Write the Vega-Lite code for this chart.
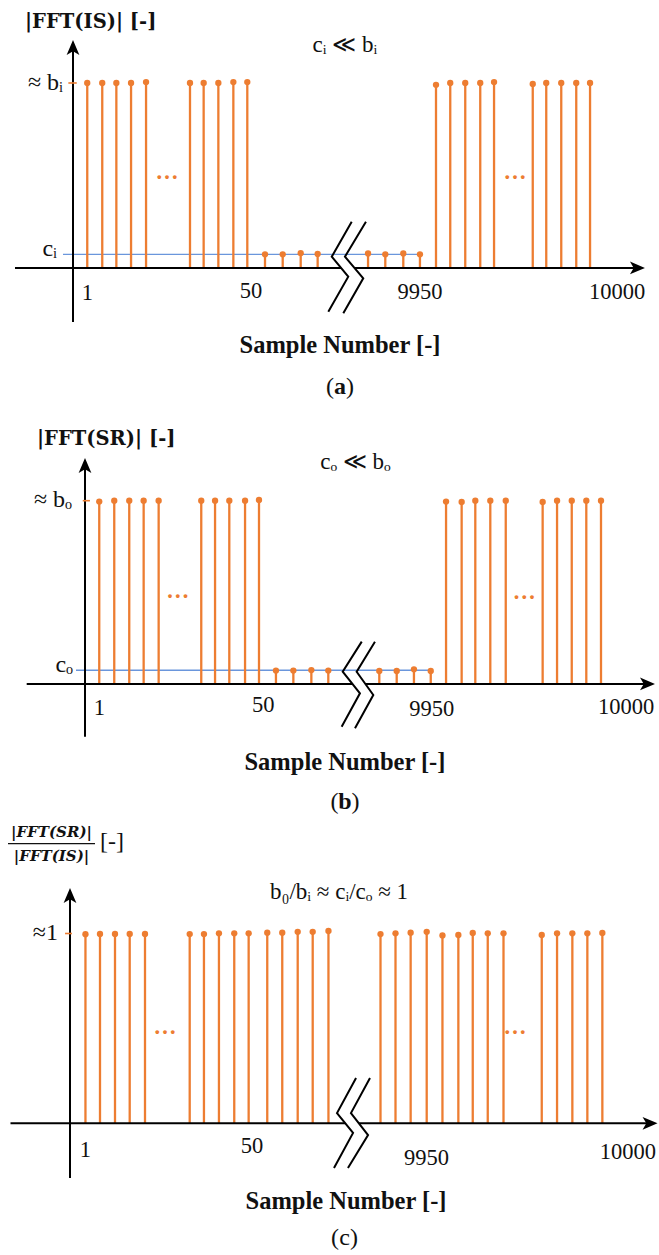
{
  "$schema": "https://vega.github.io/schema/vega-lite/v6.json",
  "padding": 0,
  "spacing": 0,
  "bounds": "flush",
  "config": {
    "view": {"stroke": null},
    "text": {"font": "Liberation Serif", "color": "#111111"}
  },
  "datasets": {
    "stems": [
      {"panel": "a", "pos": 0.95, "mag": 1}, {"panel": "a", "pos": 1.95, "mag": 1}, {"panel": "a", "pos": 2.89, "mag": 1}, {"panel": "a", "pos": 3.87, "mag": 1}, {"panel": "a", "pos": 4.87, "mag": 1.005},
      {"panel": "a", "pos": 7.8, "mag": 1}, {"panel": "a", "pos": 8.71, "mag": 1}, {"panel": "a", "pos": 9.69, "mag": 1}, {"panel": "a", "pos": 10.69, "mag": 1.005}, {"panel": "a", "pos": 11.62, "mag": 1.005},
      {"panel": "a", "pos": 12.8, "mag": 0.074}, {"panel": "a", "pos": 13.98, "mag": 0.074}, {"panel": "a", "pos": 15.18, "mag": 0.08}, {"panel": "a", "pos": 16.31, "mag": 0.076},
      {"panel": "a", "pos": 19.67, "mag": 0.079}, {"panel": "a", "pos": 20.82, "mag": 0.074}, {"panel": "a", "pos": 22.02, "mag": 0.079}, {"panel": "a", "pos": 23.13, "mag": 0.074},
      {"panel": "a", "pos": 24.2, "mag": 0.99}, {"panel": "a", "pos": 25.15, "mag": 1}, {"panel": "a", "pos": 26.15, "mag": 1}, {"panel": "a", "pos": 27.15, "mag": 1}, {"panel": "a", "pos": 28.07, "mag": 1.005},
      {"panel": "a", "pos": 30.65, "mag": 0.995}, {"panel": "a", "pos": 31.55, "mag": 1}, {"panel": "a", "pos": 32.55, "mag": 1}, {"panel": "a", "pos": 33.55, "mag": 1}, {"panel": "a", "pos": 34.47, "mag": 1},

      {"panel": "b", "pos": 0.95, "mag": 0.995}, {"panel": "b", "pos": 1.95, "mag": 1}, {"panel": "b", "pos": 2.95, "mag": 1}, {"panel": "b", "pos": 3.91, "mag": 1}, {"panel": "b", "pos": 4.91, "mag": 1},
      {"panel": "b", "pos": 7.75, "mag": 1}, {"panel": "b", "pos": 8.67, "mag": 1}, {"panel": "b", "pos": 9.62, "mag": 1}, {"panel": "b", "pos": 10.67, "mag": 1}, {"panel": "b", "pos": 11.6, "mag": 1.004},
      {"panel": "b", "pos": 12.73, "mag": 0.073}, {"panel": "b", "pos": 13.89, "mag": 0.073}, {"panel": "b", "pos": 15.09, "mag": 0.076}, {"panel": "b", "pos": 16.22, "mag": 0.073},
      {"panel": "b", "pos": 19.62, "mag": 0.071}, {"panel": "b", "pos": 20.78, "mag": 0.071}, {"panel": "b", "pos": 21.93, "mag": 0.08}, {"panel": "b", "pos": 23.05, "mag": 0.071},
      {"panel": "b", "pos": 24.07, "mag": 0.995}, {"panel": "b", "pos": 25.11, "mag": 0.993}, {"panel": "b", "pos": 26.02, "mag": 1}, {"panel": "b", "pos": 27.02, "mag": 1}, {"panel": "b", "pos": 28.05, "mag": 1},
      {"panel": "b", "pos": 30.51, "mag": 0.993}, {"panel": "b", "pos": 31.47, "mag": 1}, {"panel": "b", "pos": 32.45, "mag": 1}, {"panel": "b", "pos": 33.42, "mag": 1}, {"panel": "b", "pos": 34.4, "mag": 1},

      {"panel": "c", "pos": 1.03, "mag": 0.996}, {"panel": "c", "pos": 2.0, "mag": 0.998}, {"panel": "c", "pos": 3.0, "mag": 0.998}, {"panel": "c", "pos": 3.98, "mag": 0.998}, {"panel": "c", "pos": 5.0, "mag": 0.998},
      {"panel": "c", "pos": 7.98, "mag": 0.997}, {"panel": "c", "pos": 8.93, "mag": 0.997}, {"panel": "c", "pos": 9.93, "mag": 1.001}, {"panel": "c", "pos": 10.95, "mag": 1.001}, {"panel": "c", "pos": 11.91, "mag": 1.001},
      {"panel": "c", "pos": 13.15, "mag": 1.004}, {"panel": "c", "pos": 14.15, "mag": 1.004}, {"panel": "c", "pos": 15.18, "mag": 1.009}, {"panel": "c", "pos": 16.18, "mag": 1.009}, {"panel": "c", "pos": 17.23, "mag": 1.013},
      {"panel": "c", "pos": 20.7, "mag": 0.997}, {"panel": "c", "pos": 21.7, "mag": 1.001}, {"panel": "c", "pos": 22.71, "mag": 1.004}, {"panel": "c", "pos": 23.78, "mag": 1.009}, {"panel": "c", "pos": 24.83, "mag": 0.99},
      {"panel": "c", "pos": 25.89, "mag": 0.992}, {"panel": "c", "pos": 26.85, "mag": 1.003}, {"panel": "c", "pos": 27.85, "mag": 1.001}, {"panel": "c", "pos": 28.9, "mag": 1.001},
      {"panel": "c", "pos": 31.45, "mag": 0.992}, {"panel": "c", "pos": 32.47, "mag": 1.001}, {"panel": "c", "pos": 33.49, "mag": 1.001}, {"panel": "c", "pos": 34.49, "mag": 1.001}, {"panel": "c", "pos": 35.49, "mag": 1.003}
    ],
    "axisLines": [
      {"panel": "a", "pos": 0, "mag": -0.292, "pos2": 0, "mag2": 1.19},
      {"panel": "a", "pos": -3.867, "mag": 0, "pos2": 17.87, "mag2": 0},
      {"panel": "a", "pos": 18.77, "mag": 0, "pos2": 37.6, "mag2": 0},
      {"panel": "b", "pos": 0, "mag": -0.2875, "pos2": 0, "mag2": 1.19},
      {"panel": "b", "pos": -3.887, "mag": 0, "pos2": 17.83, "mag2": 0},
      {"panel": "b", "pos": 18.7, "mag": 0, "pos2": 37.5, "mag2": 0},
      {"panel": "c", "pos": 0, "mag": -0.288, "pos2": 0, "mag2": 1.2},
      {"panel": "c", "pos": -3.967, "mag": 0, "pos2": 18.35, "mag2": 0},
      {"panel": "c", "pos": 19.27, "mag": 0, "pos2": 38.67, "mag2": 0}
    ],
    "arrowHeads": [
      {"panel": "a", "pos": 0, "mag": 1.192, "dir": "up"},
      {"panel": "a", "pos": 37.63, "mag": 0, "dir": "right"},
      {"panel": "b", "pos": 0, "mag": 1.192, "dir": "up"},
      {"panel": "b", "pos": 37.5, "mag": 0, "dir": "right"},
      {"panel": "c", "pos": 0, "mag": 1.2, "dir": "up"},
      {"panel": "c", "pos": 38.67, "mag": 0, "dir": "right"}
    ],
    "axisBreaks": [
      {"panel": "a", "stroke": 1, "seq": 1, "pos": 18.58, "mag": 0.25},
      {"panel": "a", "stroke": 1, "seq": 2, "pos": 17.25, "mag": 0.061},
      {"panel": "a", "stroke": 1, "seq": 3, "pos": 18.35, "mag": -0.047},
      {"panel": "a", "stroke": 1, "seq": 4, "pos": 17.02, "mag": -0.236},
      {"panel": "a", "stroke": 2, "seq": 1, "pos": 19.53, "mag": 0.25},
      {"panel": "a", "stroke": 2, "seq": 2, "pos": 18.13, "mag": 0.061},
      {"panel": "a", "stroke": 2, "seq": 3, "pos": 19.35, "mag": -0.056},
      {"panel": "a", "stroke": 2, "seq": 4, "pos": 18.02, "mag": -0.245},
      {"panel": "b", "stroke": 1, "seq": 1, "pos": 18.45, "mag": 0.231},
      {"panel": "b", "stroke": 1, "seq": 2, "pos": 17.18, "mag": 0.067},
      {"panel": "b", "stroke": 1, "seq": 3, "pos": 18.33, "mag": -0.051},
      {"panel": "b", "stroke": 1, "seq": 4, "pos": 17.11, "mag": -0.233},
      {"panel": "b", "stroke": 2, "seq": 1, "pos": 19.33, "mag": 0.231},
      {"panel": "b", "stroke": 2, "seq": 2, "pos": 18.11, "mag": 0.067},
      {"panel": "b", "stroke": 2, "seq": 3, "pos": 19.22, "mag": -0.06},
      {"panel": "b", "stroke": 2, "seq": 4, "pos": 18.0, "mag": -0.242},
      {"panel": "c", "stroke": 1, "seq": 1, "pos": 19.07, "mag": 0.239},
      {"panel": "c", "stroke": 1, "seq": 2, "pos": 17.8, "mag": 0.054},
      {"panel": "c", "stroke": 1, "seq": 3, "pos": 18.87, "mag": -0.051},
      {"panel": "c", "stroke": 1, "seq": 4, "pos": 17.6, "mag": -0.236},
      {"panel": "c", "stroke": 2, "seq": 1, "pos": 20.0, "mag": 0.239},
      {"panel": "c", "stroke": 2, "seq": 2, "pos": 18.73, "mag": 0.054},
      {"panel": "c", "stroke": 2, "seq": 3, "pos": 19.87, "mag": -0.062},
      {"panel": "c", "stroke": 2, "seq": 4, "pos": 18.53, "mag": -0.236}
    ],
    "floorLevels": [
      {"panel": "a", "pos": -0.667, "pos2": 23.13, "mag": 0.074},
      {"panel": "b", "pos": -0.6, "pos2": 23.2, "mag": 0.075}
    ],
    "peakTicks": [
      {"panel": "a", "pos": -0.31, "pos2": 0.25, "mag": 1},
      {"panel": "b", "pos": -0.15, "pos2": 0.33, "mag": 1},
      {"panel": "c", "pos": -0.33, "pos2": 0.13, "mag": 1}
    ],
    "yTitles": [
      {"panel": "a", "pos": -3.2, "mag": 1.297, "label": "|FFT(IS)| [-]"},
      {"panel": "b", "pos": -3.2, "mag": 1.304, "label": "|FFT(SR)| [-]"}
    ],
    "ratioTitle": [
      {"panel": "c", "pos": -1.233, "mag": 1.534, "label": "|FFT(SR)|"},
      {"panel": "c", "pos": -1.233, "mag": 1.41, "label": "|FFT(IS)|"}
    ],
    "ratioBar": [
      {"panel": "c", "pos": -4.133, "pos2": 1.667, "mag": 1.474}
    ],
    "ratioUnit": [
      {"panel": "c", "pos": 2.0, "mag": 1.482, "label": "[-]"}
    ],
    "relations": [
      {"panel": "a", "pos": 18.13, "mag": 1.205, "label": "cᵢ ≪ bᵢ"},
      {"panel": "b", "pos": 18.03, "mag": 1.211, "label": "cₒ ≪ bₒ"},
      {"panel": "c", "pos": 17.93, "mag": 1.218, "label": "b₀/bᵢ ≈ cᵢ/cₒ ≈ 1"}
    ],
    "levelLabels": [
      {"panel": "a", "pos": -0.667, "mag": 1.0, "label": "≈ bᵢ"},
      {"panel": "a", "pos": -1.067, "mag": 0.103, "label": "cᵢ"},
      {"panel": "b", "pos": -0.867, "mag": 1.004, "label": "≈ bₒ"},
      {"panel": "b", "pos": -0.8, "mag": 0.104, "label": "cₒ"},
      {"panel": "c", "pos": -0.8, "mag": 1.003, "label": "≈1"}
    ],
    "ellipses": [
      {"panel": "a", "pos": 6.27, "mag": 0.519}, {"panel": "a", "pos": 29.47, "mag": 0.519},
      {"panel": "b", "pos": 6.18, "mag": 0.507}, {"panel": "b", "pos": 29.29, "mag": 0.504},
      {"panel": "c", "pos": 6.33, "mag": 0.507}, {"panel": "c", "pos": 29.67, "mag": 0.507}
    ],
    "sampleTicks": [
      {"panel": "a", "pos": 0.95, "mag": -0.135, "label": "1"},
      {"panel": "a", "pos": 11.87, "mag": -0.124, "label": "50"},
      {"panel": "a", "pos": 23.13, "mag": -0.13, "label": "9950"},
      {"panel": "a", "pos": 36.27, "mag": -0.13, "label": "10000"},
      {"panel": "b", "pos": 0.95, "mag": -0.131, "label": "1"},
      {"panel": "b", "pos": 11.89, "mag": -0.115, "label": "50"},
      {"panel": "b", "pos": 23.11, "mag": -0.136, "label": "9950"},
      {"panel": "b", "pos": 36.07, "mag": -0.125, "label": "10000"},
      {"panel": "c", "pos": 1.02, "mag": -0.141, "label": "1"},
      {"panel": "c", "pos": 12.13, "mag": -0.12, "label": "50"},
      {"panel": "c", "pos": 23.77, "mag": -0.183, "label": "9950"},
      {"panel": "c", "pos": 37.2, "mag": -0.151, "label": "10000"}
    ],
    "xTitles": [
      {"panel": "a", "pos": 17.8, "mag": -0.422, "label": "Sample Number [-]"},
      {"panel": "b", "pos": 17.33, "mag": -0.431, "label": "Sample Number [-]"},
      {"panel": "c", "pos": 18.4, "mag": -0.413, "label": "Sample Number [-]"}
    ],
    "captions": [
      {"panel": "a", "pos": 17.8, "mag": -0.642, "label": "a"},
      {"panel": "b", "pos": 17.33, "mag": -0.642, "label": "b"},
      {"panel": "c", "pos": 18.3, "mag": -0.604, "label": "c"}
    ]
  },
  "vconcat": [
    {
      "width": 659,
      "height": 410,
      "encoding": {
        "x": {"field": "pos", "type": "quantitative", "scale": {"domain": [-4.8667, 39.0667], "nice": false, "zero": false}, "axis": null},
        "y": {"field": "mag", "type": "quantitative", "scale": {"domain": [-0.7676, 1.4486], "nice": false, "zero": false}, "axis": null}
      },
      "layer": [
        {"data": {"name": "floorLevels"}, "transform": [{"filter": "datum.panel == 'a'"}], "mark": {"type": "rule", "color": "#6A96DC", "strokeWidth": 1.3}, "encoding": {"x2": {"field": "pos2"}}},
        {"data": {"name": "stems"}, "transform": [{"filter": "datum.panel == 'a'"}], "mark": {"type": "rule", "color": "#ED7D31", "strokeWidth": 2.3}, "encoding": {"y2": {"datum": 0}}},
        {"data": {"name": "stems"}, "transform": [{"filter": "datum.panel == 'a'"}], "mark": {"type": "point", "filled": true, "color": "#ED7D31", "opacity": 1, "size": 40}},
        {"data": {"name": "axisLines"}, "transform": [{"filter": "datum.panel == 'a'"}], "mark": {"type": "rule", "color": "#000000", "strokeWidth": 2}, "encoding": {"x2": {"field": "pos2"}, "y2": {"field": "mag2"}}},
        {"data": {"name": "arrowHeads"}, "transform": [{"filter": "datum.panel == 'a'"}], "mark": {"type": "point", "filled": true, "color": "#000000", "opacity": 1, "size": 225}, "encoding": {"shape": {"field": "dir", "type": "nominal", "scale": {"domain": ["up", "right"], "range": ["M0,-1L0.85,1L0,0.5L-0.85,1Z", "M1,0L-1,0.85L-0.5,0L-1,-0.85Z"]}, "legend": null}}},
        {"data": {"name": "axisBreaks"}, "transform": [{"filter": "datum.panel == 'a'"}], "mark": {"type": "line", "color": "#000000", "strokeWidth": 2}, "encoding": {"detail": {"field": "stroke"}, "order": {"field": "seq"}}},
        {"data": {"name": "peakTicks"}, "transform": [{"filter": "datum.panel == 'a'"}], "mark": {"type": "rule", "color": "#ED7D31", "strokeWidth": 1.6}, "encoding": {"x2": {"field": "pos2"}}},
        {"data": {"name": "yTitles"}, "transform": [{"filter": "datum.panel == 'a'"}], "mark": {"type": "text", "font": "DejaVu Serif", "fontWeight": "bold", "fontSize": 19.5, "align": "left", "baseline": "alphabetic"}, "encoding": {"text": {"field": "label"}}},
        {"data": {"name": "relations"}, "transform": [{"filter": "datum.panel == 'a'"}], "mark": {"type": "text", "fontSize": 23, "align": "center", "baseline": "middle"}, "encoding": {"text": {"field": "label"}}},
        {"data": {"name": "levelLabels"}, "transform": [{"filter": "datum.panel == 'a'"}], "mark": {"type": "text", "fontSize": 24, "align": "right", "baseline": "middle"}, "encoding": {"text": {"field": "label"}}},
        {"data": {"name": "ellipses"}, "transform": [{"filter": "datum.panel == 'a'"}], "mark": {"type": "text", "text": "…", "fontSize": 23, "fontWeight": "bold", "color": "#ED7D31", "align": "center", "baseline": "middle"}},
        {"data": {"name": "sampleTicks"}, "transform": [{"filter": "datum.panel == 'a'"}], "mark": {"type": "text", "fontSize": 22.5, "align": "center", "baseline": "middle"}, "encoding": {"text": {"field": "label"}}},
        {"data": {"name": "xTitles"}, "transform": [{"filter": "datum.panel == 'a'"}], "mark": {"type": "text", "fontSize": 24.5, "fontWeight": "bold", "align": "center", "baseline": "middle"}, "encoding": {"text": {"field": "label"}}},
        {"data": {"name": "captions"}, "transform": [{"filter": "datum.panel == 'a'"}], "mark": {"type": "text", "fontSize": 24, "fontWeight": "bold", "align": "center", "baseline": "middle"}, "encoding": {"text": {"field": "label"}}},
        {"data": {"name": "captions"}, "transform": [{"filter": "datum.panel == 'a'"}], "mark": {"type": "text", "text": "(", "fontSize": 24, "align": "right", "baseline": "middle", "dx": -6}},
        {"data": {"name": "captions"}, "transform": [{"filter": "datum.panel == 'a'"}], "mark": {"type": "text", "text": ")", "fontSize": 24, "align": "left", "baseline": "middle", "dx": 6}}
      ]
    },
    {
      "width": 659,
      "height": 410,
      "encoding": {
        "x": {"field": "pos", "type": "quantitative", "scale": {"domain": [-5.6667, 38.2667], "nice": false, "zero": false}, "axis": null},
        "y": {"field": "mag", "type": "quantitative", "scale": {"domain": [-0.742, 1.4948], "nice": false, "zero": false}, "axis": null}
      },
      "layer": [
        {"data": {"name": "floorLevels"}, "transform": [{"filter": "datum.panel == 'b'"}], "mark": {"type": "rule", "color": "#6A96DC", "strokeWidth": 1.3}, "encoding": {"x2": {"field": "pos2"}}},
        {"data": {"name": "stems"}, "transform": [{"filter": "datum.panel == 'b'"}], "mark": {"type": "rule", "color": "#ED7D31", "strokeWidth": 2.3}, "encoding": {"y2": {"datum": 0}}},
        {"data": {"name": "stems"}, "transform": [{"filter": "datum.panel == 'b'"}], "mark": {"type": "point", "filled": true, "color": "#ED7D31", "opacity": 1, "size": 40}},
        {"data": {"name": "axisLines"}, "transform": [{"filter": "datum.panel == 'b'"}], "mark": {"type": "rule", "color": "#000000", "strokeWidth": 2}, "encoding": {"x2": {"field": "pos2"}, "y2": {"field": "mag2"}}},
        {"data": {"name": "arrowHeads"}, "transform": [{"filter": "datum.panel == 'b'"}], "mark": {"type": "point", "filled": true, "color": "#000000", "opacity": 1, "size": 225}, "encoding": {"shape": {"field": "dir", "type": "nominal", "scale": {"domain": ["up", "right"], "range": ["M0,-1L0.85,1L0,0.5L-0.85,1Z", "M1,0L-1,0.85L-0.5,0L-1,-0.85Z"]}, "legend": null}}},
        {"data": {"name": "axisBreaks"}, "transform": [{"filter": "datum.panel == 'b'"}], "mark": {"type": "line", "color": "#000000", "strokeWidth": 2}, "encoding": {"detail": {"field": "stroke"}, "order": {"field": "seq"}}},
        {"data": {"name": "peakTicks"}, "transform": [{"filter": "datum.panel == 'b'"}], "mark": {"type": "rule", "color": "#ED7D31", "strokeWidth": 1.6}, "encoding": {"x2": {"field": "pos2"}}},
        {"data": {"name": "yTitles"}, "transform": [{"filter": "datum.panel == 'b'"}], "mark": {"type": "text", "font": "DejaVu Serif", "fontWeight": "bold", "fontSize": 19.5, "align": "left", "baseline": "alphabetic"}, "encoding": {"text": {"field": "label"}}},
        {"data": {"name": "relations"}, "transform": [{"filter": "datum.panel == 'b'"}], "mark": {"type": "text", "fontSize": 23, "align": "center", "baseline": "middle"}, "encoding": {"text": {"field": "label"}}},
        {"data": {"name": "levelLabels"}, "transform": [{"filter": "datum.panel == 'b'"}], "mark": {"type": "text", "fontSize": 24, "align": "right", "baseline": "middle"}, "encoding": {"text": {"field": "label"}}},
        {"data": {"name": "ellipses"}, "transform": [{"filter": "datum.panel == 'b'"}], "mark": {"type": "text", "text": "…", "fontSize": 23, "fontWeight": "bold", "color": "#ED7D31", "align": "center", "baseline": "middle"}},
        {"data": {"name": "sampleTicks"}, "transform": [{"filter": "datum.panel == 'b'"}], "mark": {"type": "text", "fontSize": 22.5, "align": "center", "baseline": "middle"}, "encoding": {"text": {"field": "label"}}},
        {"data": {"name": "xTitles"}, "transform": [{"filter": "datum.panel == 'b'"}], "mark": {"type": "text", "fontSize": 24.5, "fontWeight": "bold", "align": "center", "baseline": "middle"}, "encoding": {"text": {"field": "label"}}},
        {"data": {"name": "captions"}, "transform": [{"filter": "datum.panel == 'b'"}], "mark": {"type": "text", "fontSize": 24, "fontWeight": "bold", "align": "center", "baseline": "middle"}, "encoding": {"text": {"field": "label"}}},
        {"data": {"name": "captions"}, "transform": [{"filter": "datum.panel == 'b'"}], "mark": {"type": "text", "text": "(", "fontSize": 24, "align": "right", "baseline": "middle", "dx": -6.5}},
        {"data": {"name": "captions"}, "transform": [{"filter": "datum.panel == 'b'"}], "mark": {"type": "text", "text": ")", "fontSize": 24, "align": "left", "baseline": "middle", "dx": 6.5}}
      ]
    },
    {
      "width": 659,
      "height": 435,
      "encoding": {
        "x": {"field": "pos", "type": "quantitative", "scale": {"domain": [-4.6667, 39.2667], "nice": false, "zero": false}, "axis": null},
        "y": {"field": "mag", "type": "quantitative", "scale": {"domain": [-0.6939, 1.598], "nice": false, "zero": false}, "axis": null}
      },
      "layer": [
        {"data": {"name": "stems"}, "transform": [{"filter": "datum.panel == 'c'"}], "mark": {"type": "rule", "color": "#ED7D31", "strokeWidth": 2.3}, "encoding": {"y2": {"datum": 0}}},
        {"data": {"name": "stems"}, "transform": [{"filter": "datum.panel == 'c'"}], "mark": {"type": "point", "filled": true, "color": "#ED7D31", "opacity": 1, "size": 40}},
        {"data": {"name": "axisLines"}, "transform": [{"filter": "datum.panel == 'c'"}], "mark": {"type": "rule", "color": "#000000", "strokeWidth": 2}, "encoding": {"x2": {"field": "pos2"}, "y2": {"field": "mag2"}}},
        {"data": {"name": "arrowHeads"}, "transform": [{"filter": "datum.panel == 'c'"}], "mark": {"type": "point", "filled": true, "color": "#000000", "opacity": 1, "size": 225}, "encoding": {"shape": {"field": "dir", "type": "nominal", "scale": {"domain": ["up", "right"], "range": ["M0,-1L0.85,1L0,0.5L-0.85,1Z", "M1,0L-1,0.85L-0.5,0L-1,-0.85Z"]}, "legend": null}}},
        {"data": {"name": "axisBreaks"}, "transform": [{"filter": "datum.panel == 'c'"}], "mark": {"type": "line", "color": "#000000", "strokeWidth": 2}, "encoding": {"detail": {"field": "stroke"}, "order": {"field": "seq"}}},
        {"data": {"name": "peakTicks"}, "transform": [{"filter": "datum.panel == 'c'"}], "mark": {"type": "rule", "color": "#ED7D31", "strokeWidth": 1.6}, "encoding": {"x2": {"field": "pos2"}}},
        {"data": {"name": "ratioTitle"}, "transform": [{"filter": "datum.panel == 'c'"}], "mark": {"type": "text", "font": "DejaVu Serif", "fontWeight": "bold", "fontStyle": "italic", "fontSize": 15, "align": "center", "baseline": "middle"}, "encoding": {"text": {"field": "label"}}},
        {"data": {"name": "ratioBar"}, "transform": [{"filter": "datum.panel == 'c'"}], "mark": {"type": "rule", "color": "#111111", "strokeWidth": 1.3}, "encoding": {"x2": {"field": "pos2"}}},
        {"data": {"name": "ratioUnit"}, "transform": [{"filter": "datum.panel == 'c'"}], "mark": {"type": "text", "fontSize": 24, "align": "left", "baseline": "middle"}, "encoding": {"text": {"field": "label"}}},
        {"data": {"name": "relations"}, "transform": [{"filter": "datum.panel == 'c'"}], "mark": {"type": "text", "fontSize": 23, "align": "center", "baseline": "middle"}, "encoding": {"text": {"field": "label"}}},
        {"data": {"name": "levelLabels"}, "transform": [{"filter": "datum.panel == 'c'"}], "mark": {"type": "text", "fontSize": 24, "align": "right", "baseline": "middle"}, "encoding": {"text": {"field": "label"}}},
        {"data": {"name": "ellipses"}, "transform": [{"filter": "datum.panel == 'c'"}], "mark": {"type": "text", "text": "…", "fontSize": 23, "fontWeight": "bold", "color": "#ED7D31", "align": "center", "baseline": "middle"}},
        {"data": {"name": "sampleTicks"}, "transform": [{"filter": "datum.panel == 'c'"}], "mark": {"type": "text", "fontSize": 22.5, "align": "center", "baseline": "middle"}, "encoding": {"text": {"field": "label"}}},
        {"data": {"name": "xTitles"}, "transform": [{"filter": "datum.panel == 'c'"}], "mark": {"type": "text", "fontSize": 24.5, "fontWeight": "bold", "align": "center", "baseline": "middle"}, "encoding": {"text": {"field": "label"}}},
        {"data": {"name": "captions"}, "transform": [{"filter": "datum.panel == 'c'"}], "mark": {"type": "text", "fontSize": 24, "fontWeight": "normal", "align": "center", "baseline": "middle"}, "encoding": {"text": {"field": "label"}}},
        {"data": {"name": "captions"}, "transform": [{"filter": "datum.panel == 'c'"}], "mark": {"type": "text", "text": "(", "fontSize": 24, "align": "right", "baseline": "middle", "dx": -5.5}},
        {"data": {"name": "captions"}, "transform": [{"filter": "datum.panel == 'c'"}], "mark": {"type": "text", "text": ")", "fontSize": 24, "align": "left", "baseline": "middle", "dx": 5.5}}
      ]
    }
  ]
}
